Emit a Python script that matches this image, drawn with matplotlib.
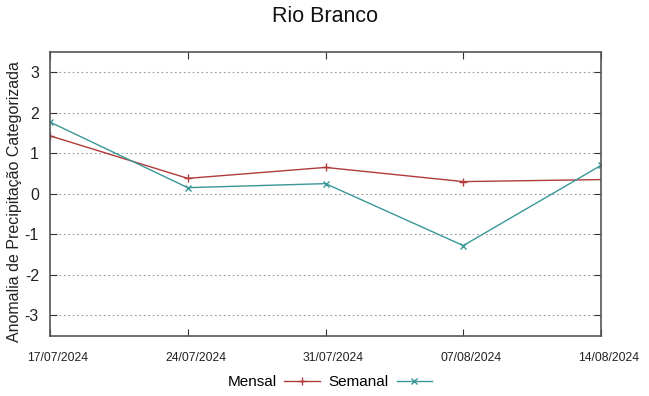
import matplotlib
matplotlib.use("Agg")
import matplotlib.pyplot as plt
import matplotlib.dates as mdates
import matplotlib.transforms as mtransforms
import pandas as pd

plt.rcParams['font.family'] = ['Liberation Sans', 'DejaVu Sans']
plt.rcParams['axes.unicode_minus'] = False

# dados
datas_mensal = pd.to_datetime(["2024-07-17", "2024-07-24", "2024-07-31", "2024-08-07", "2024-08-21"])
mensal = [1.43, 0.38, 0.65, 0.30, 0.40]
datas_semanal = pd.to_datetime(["2024-07-17", "2024-07-24", "2024-07-31", "2024-08-07", "2024-08-14"])
semanal = [1.77, 0.15, 0.25, -1.28, 0.70]
xticks = pd.to_datetime(["2024-07-17", "2024-07-24", "2024-07-31", "2024-08-07", "2024-08-14"])
yticks = [-3, -2, -1, 0, 1, 2, 3]

fig = plt.figure(figsize=(6.49, 3.96), dpi=100)
ax = fig.add_axes([50/649, 1 - 335.5/396, 551/649, 283.5/396])

ax.plot(datas_mensal, mensal, color='#b13a3a', lw=1, marker='+', ms=6, mew=1, label='Mensal')
ax.plot(datas_semanal, semanal, color='#3a9797', lw=1, marker='x', ms=5, mew=1, label='Semanal')

ax.set_xlim(xticks[0], xticks[-1])
ax.set_ylim(-3.5, 3.5)
ax.set_xticks(xticks)
ax.xaxis.set_major_formatter(mdates.DateFormatter('%d/%m/%Y'))
ax.set_yticks(yticks)
ax.tick_params(axis='x', labelsize=8.7, direction='in', top=True, length=5, pad=12, colors='#333333')
ax.tick_params(axis='y', labelsize=11.5, direction='in', right=True, length=5, pad=8, colors='#333333')
ax.tick_params(labelcolor='#222222')
ax.grid(axis='y', linestyle=(0, (1.5, 2.5)), color='#999999', lw=0.8)
for s in ax.spines.values():
    s.set_color('#555555')
    s.set_linewidth(1.2)

# rotulos das datas levemente deslocados para a direita
shift = mtransforms.ScaledTranslation(8/100, 0, fig.dpi_scale_trans)
for lbl in ax.get_xticklabels():
    lbl.set_transform(lbl.get_transform() + shift)

ax.set_ylabel('Anomalia de Precipitação Categorizada', fontsize=11.5, color='#222222')
ax.yaxis.set_label_coords(-0.05, 0.473)
fig.suptitle('Rio Branco', fontsize=15.5, y=0.985, color='#111111')

fig.legend(loc='lower center', bbox_to_anchor=(0.508, -0.018), ncol=2, frameon=False,
           markerfirst=False, fontsize=11, handlelength=2.3, columnspacing=0.6, handletextpad=0.5)

fig.savefig('out.png', dpi=100)
